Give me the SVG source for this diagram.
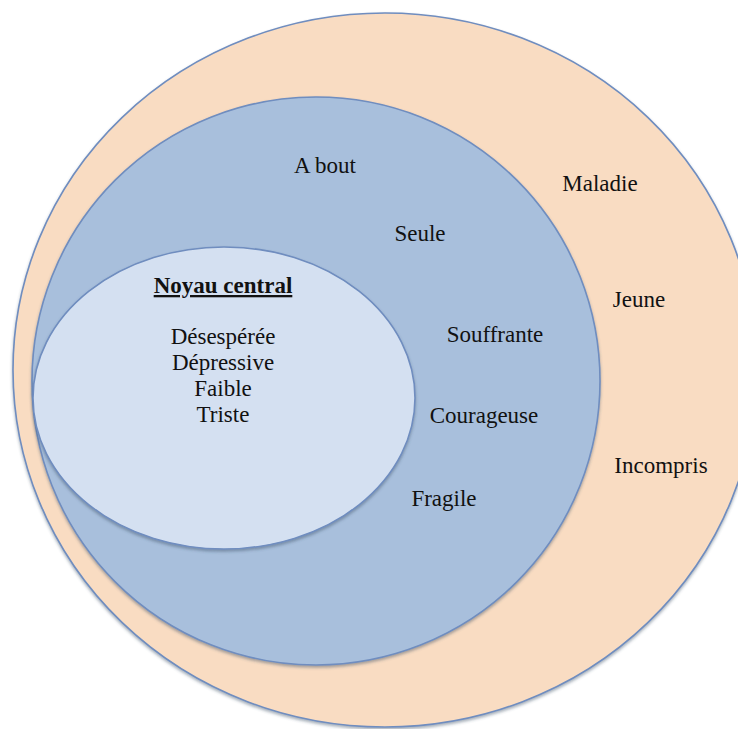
<svg xmlns="http://www.w3.org/2000/svg" width="738" height="729" viewBox="0 0 738 729">
  <style>
    .lbl { font-family: "Liberation Serif", "DejaVu Serif", serif; font-size: 23px; fill: #111; text-anchor: middle; }
    .ttl { font-weight: bold; text-decoration: underline; }
    .ring { stroke: #6f8dbf; stroke-width: 1.6; }
  </style>
  <defs>
    <filter id="sh" x="-10%" y="-10%" width="120%" height="120%">
      <feDropShadow dx="0" dy="2" stdDeviation="1.5" flood-color="#3d4d66" flood-opacity="0.45"/>
    </filter>
  </defs>
  <rect width="738" height="729" fill="#ffffff"/>
  <g id="outer">
    <ellipse class="ring" cx="385" cy="370" rx="372" ry="357" fill="#f9dcc2" filter="url(#sh)"/>
  </g>
  <g id="middle">
    <ellipse class="ring" cx="316" cy="381" rx="284" ry="284" fill="#a8bfdc" filter="url(#sh)"/>
  </g>
  <g id="core">
    <ellipse class="ring" cx="224" cy="398" rx="191" ry="151" fill="#d4e0f1" filter="url(#sh)"/>
  </g>
  <g id="core-labels">
    <text class="lbl ttl" x="223" y="293">Noyau central</text>
    <text class="lbl" x="223" y="344">Désespérée</text>
    <text class="lbl" x="223" y="370">Dépressive</text>
    <text class="lbl" x="223" y="396">Faible</text>
    <text class="lbl" x="223" y="422">Triste</text>
  </g>
  <g id="middle-labels">
    <text class="lbl" x="325" y="173">A bout</text>
    <text class="lbl" x="420" y="241">Seule</text>
    <text class="lbl" x="495" y="342">Souffrante</text>
    <text class="lbl" x="484" y="423">Courageuse</text>
    <text class="lbl" x="444" y="506">Fragile</text>
  </g>
  <g id="outer-labels">
    <text class="lbl" x="600" y="191">Maladie</text>
    <text class="lbl" x="639" y="307">Jeune</text>
    <text class="lbl" x="661" y="473">Incompris</text>
  </g>
</svg>
